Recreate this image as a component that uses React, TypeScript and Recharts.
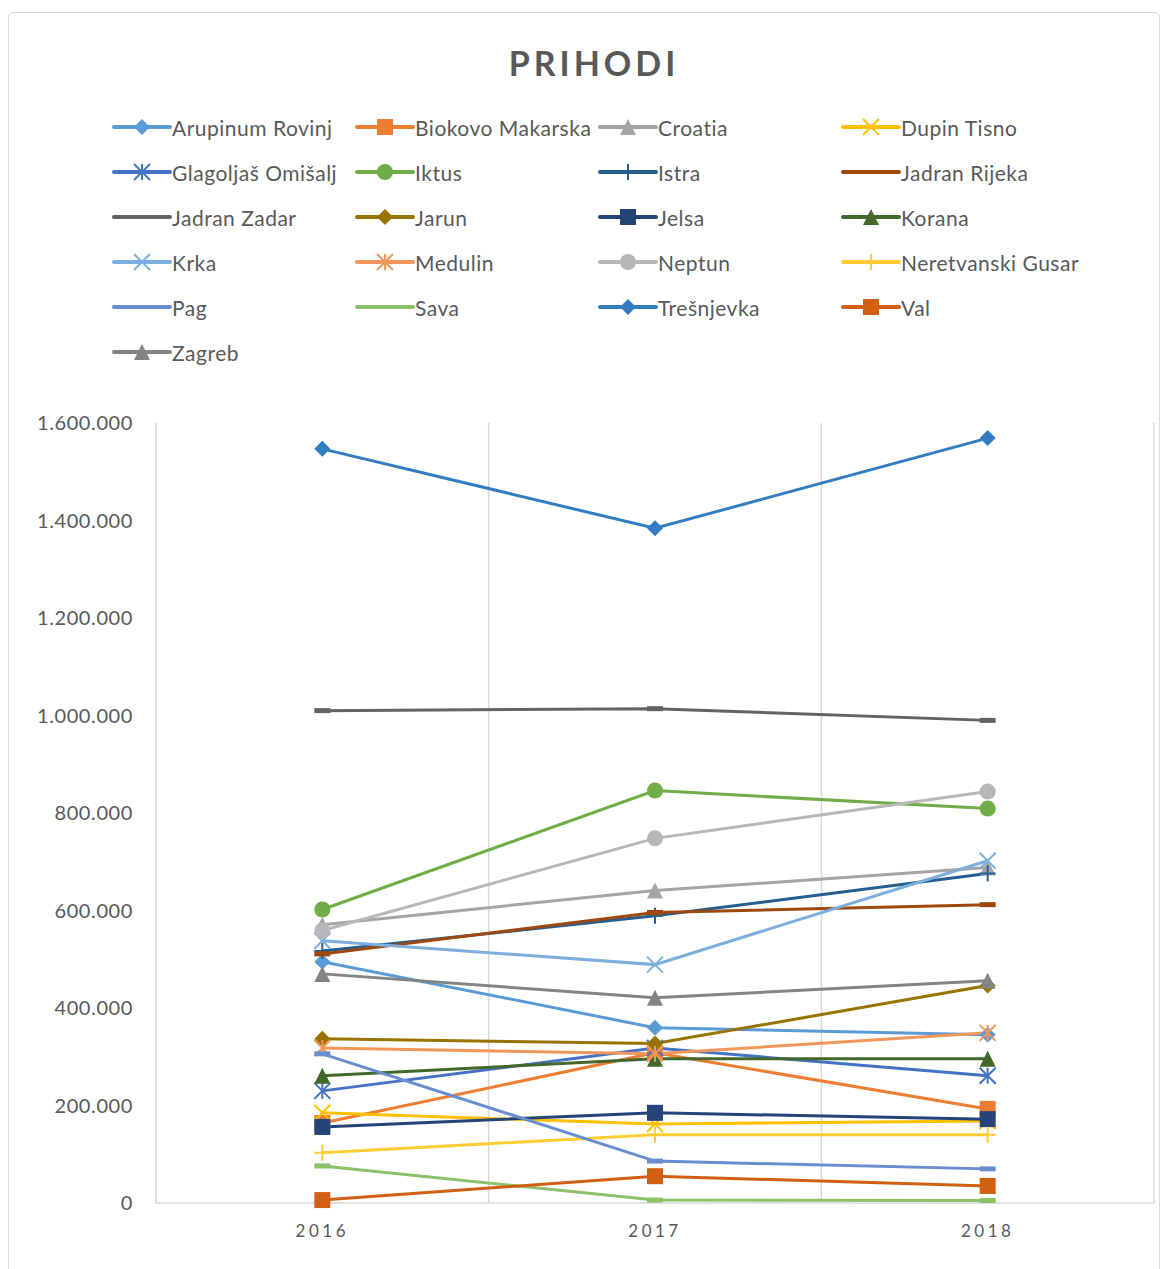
import { LineChart, Line, XAxis, YAxis, ReferenceLine } from "recharts";

const years = ["2016", "2017", "2018"];
const yTicks = [0, 200000, 400000, 600000, 800000, 1000000, 1200000, 1400000, 1600000];

// values (kn)
const arupinumRovinj = [495000, 359500, 345000];
const biokovoMakarska = [164000, 308000, 193000];
const croatia = [571000, 641000, 688000];
const dupinTisno = [185000, 162000, 168000];
const glagoljasOmisalj = [230000, 318000, 261000];
const iktus = [602000, 846000, 809000];
const istra = [517000, 589000, 676000];
const jadranRijeka = [511000, 596000, 612000];
const jadranZadar = [1010000, 1014000, 990000];
const jarun = [337000, 327000, 446000];
const jelsa = [156000, 185000, 172000];
const korana = [261000, 296000, 296000];
const krka = [538000, 489000, 702000];
const medulin = [318000, 306000, 349000];
const neptun = [559000, 748000, 844000];
const neretvanskiGusar = [103000, 140000, 140000];
const pag = [306000, 86000, 70000];
const sava = [76000, 6000, 5000];
const tresnjevka = [1547000, 1384000, 1569000];
const val = [6000, 55000, 35000];
const zagreb = [470000, 421000, 456000];

type Shape = "diamond" | "square" | "triangle" | "x" | "star" | "circle" | "plus" | "dash";

const series: { name: string; color: string; shape: Shape; values: number[] }[] = [
  { name: "Arupinum Rovinj", color: "#5B9BD5", shape: "diamond", values: arupinumRovinj },
  { name: "Biokovo Makarska", color: "#ED7D31", shape: "square", values: biokovoMakarska },
  { name: "Croatia", color: "#A5A5A5", shape: "triangle", values: croatia },
  { name: "Dupin Tisno", color: "#FFC000", shape: "x", values: dupinTisno },
  { name: "Glagoljaš Omišalj", color: "#4472C4", shape: "star", values: glagoljasOmisalj },
  { name: "Iktus", color: "#70AD47", shape: "circle", values: iktus },
  { name: "Istra", color: "#255E91", shape: "plus", values: istra },
  { name: "Jadran Rijeka", color: "#9E480E", shape: "dash", values: jadranRijeka },
  { name: "Jadran Zadar", color: "#636363", shape: "dash", values: jadranZadar },
  { name: "Jarun", color: "#997300", shape: "diamond", values: jarun },
  { name: "Jelsa", color: "#264478", shape: "square", values: jelsa },
  { name: "Korana", color: "#43682B", shape: "triangle", values: korana },
  { name: "Krka", color: "#7CAFDD", shape: "x", values: krka },
  { name: "Medulin", color: "#F1975A", shape: "star", values: medulin },
  { name: "Neptun", color: "#B7B7B7", shape: "circle", values: neptun },
  { name: "Neretvanski Gusar", color: "#FFCD33", shape: "plus", values: neretvanskiGusar },
  { name: "Pag", color: "#698ED0", shape: "dash", values: pag },
  { name: "Sava", color: "#8CC168", shape: "dash", values: sava },
  { name: "Trešnjevka", color: "#327DC2", shape: "diamond", values: tresnjevka },
  { name: "Val", color: "#D26012", shape: "square", values: val },
  { name: "Zagreb", color: "#848484", shape: "triangle", values: zagreb },
];

const data = years.map((year, i) => {
  const row: Record<string, number | string> = { x: i + 0.5, year };
  series.forEach((s) => (row[s.name] = s.values[i]));
  return row;
});

const FONT = "Lato, 'Open Sans', sans-serif";
const TEXT = "#595959";
const GRID = "#D9D9D9";

function fmt(v: number): string {
  return String(v).replace(/\B(?=(\d{3})+(?!\d))/g, ".");
}

function Marker({ shape, color, cx, cy }: { shape: Shape; color: string; cx: number; cy: number }) {
  const h = 8;
  switch (shape) {
    case "diamond":
      return <polygon points={`${cx},${cy - h} ${cx + h},${cy} ${cx},${cy + h} ${cx - h},${cy}`} fill={color} />;
    case "square":
      return <rect x={cx - h} y={cy - h} width={h * 2} height={h * 2} fill={color} />;
    case "triangle":
      return <polygon points={`${cx},${cy - h} ${cx + h},${cy + h} ${cx - h},${cy + h}`} fill={color} />;
    case "circle":
      return <circle cx={cx} cy={cy} r={h} fill={color} />;
    case "x":
      return (
        <g stroke={color} strokeWidth={2}>
          <line x1={cx - h} y1={cy - h} x2={cx + h} y2={cy + h} />
          <line x1={cx - h} y1={cy + h} x2={cx + h} y2={cy - h} />
        </g>
      );
    case "star":
      return (
        <g stroke={color} strokeWidth={2}>
          <line x1={cx - h} y1={cy - h} x2={cx + h} y2={cy + h} />
          <line x1={cx - h} y1={cy + h} x2={cx + h} y2={cy - h} />
          <line x1={cx} y1={cy - h} x2={cx} y2={cy + h} />
        </g>
      );
    case "plus":
      return (
        <g stroke={color} strokeWidth={2}>
          <line x1={cx - h} y1={cy} x2={cx + h} y2={cy} />
          <line x1={cx} y1={cy - h} x2={cx} y2={cy + h} />
        </g>
      );
    default:
      return <rect x={cx - h} y={cy - 2.5} width={h * 2} height={5} fill={color} />;
  }
}

function LegendGrid() {
  return (
    <div style={{ position: "absolute", left: 103, top: 92, width: 1000, fontFamily: FONT }}>
      {series.map((s, i) => (
        <div
          key={s.name}
          style={{
            position: "absolute",
            left: (i % 4) * 243,
            top: Math.floor(i / 4) * 45,
            height: 44,
            display: "flex",
            alignItems: "center",
            color: TEXT,
            fontSize: 21,
            letterSpacing: 0.5,
            whiteSpace: "nowrap",
          }}
        >
          <svg width={60} height={20} style={{ marginRight: 0 }}>
            <line x1={2} y1={10} x2={58} y2={10} stroke={s.color} strokeWidth={4} strokeLinecap="round" />
            {s.shape !== "dash" && <Marker shape={s.shape} color={s.color} cx={30} cy={10} />}
          </svg>
          {s.name}
        </div>
      ))}
    </div>
  );
}

export default function App() {
  return (
    <div
      style={{
        position: "relative",
        width: 1152,
        height: 1262,
        marginTop: 4,
        border: `1px solid ${GRID}`,
        borderRadius: 6,
        boxSizing: "border-box",
        background: "#fff",
      }}
    >
      <div
        style={{
          position: "absolute",
          top: 29,
          left: 10,
          width: "100%",
          textAlign: "center",
          fontFamily: FONT,
          fontWeight: 700,
          fontSize: 34,
          letterSpacing: 4,
          color: TEXT,
        }}
      >
        PRIHODI
      </div>
      <LegendGrid />
      <LineChart
        width={1150}
        height={1260}
        data={data}
        margin={{ top: 410, right: 5, bottom: 22, left: 0 }}
        style={{ position: "absolute", left: 0, top: 0 }}
      >
        <XAxis
          dataKey="x"
          type="number"
          domain={[0, 3]}
          ticks={[0.5, 1.5, 2.5]}
          tickFormatter={(v: number) => years[Math.floor(v)]}
          axisLine={{ stroke: GRID, strokeWidth: 1.5 }}
          tickLine={false}
          tickMargin={16}
          height={48}
          tick={{ fill: TEXT, fontSize: 17, fontFamily: FONT, letterSpacing: 3.5 }}
        />
        <YAxis
          domain={[0, 1600000]}
          ticks={yTicks}
          tickFormatter={fmt}
          axisLine={false}
          tickLine={false}
          width={147}
          tickMargin={17}
          tick={{ fill: TEXT, fontSize: 20, fontFamily: FONT, letterSpacing: 0.6 }}
        />
        {[0, 1, 2, 3].map((x) => (
          <ReferenceLine key={x} x={x} stroke={GRID} strokeWidth={1.5} />
        ))}
        {series.map((s) => (
          <Line
            key={s.name}
            dataKey={s.name}
            stroke={s.color}
            strokeWidth={3}
            isAnimationActive={false}
            activeDot={false}
            dot={(p: any) => (
              <Marker key={`${s.name}-${p.index}`} shape={s.shape} color={s.color} cx={p.cx} cy={p.cy} />
            )}
          />
        ))}
      </LineChart>
    </div>
  );
}
